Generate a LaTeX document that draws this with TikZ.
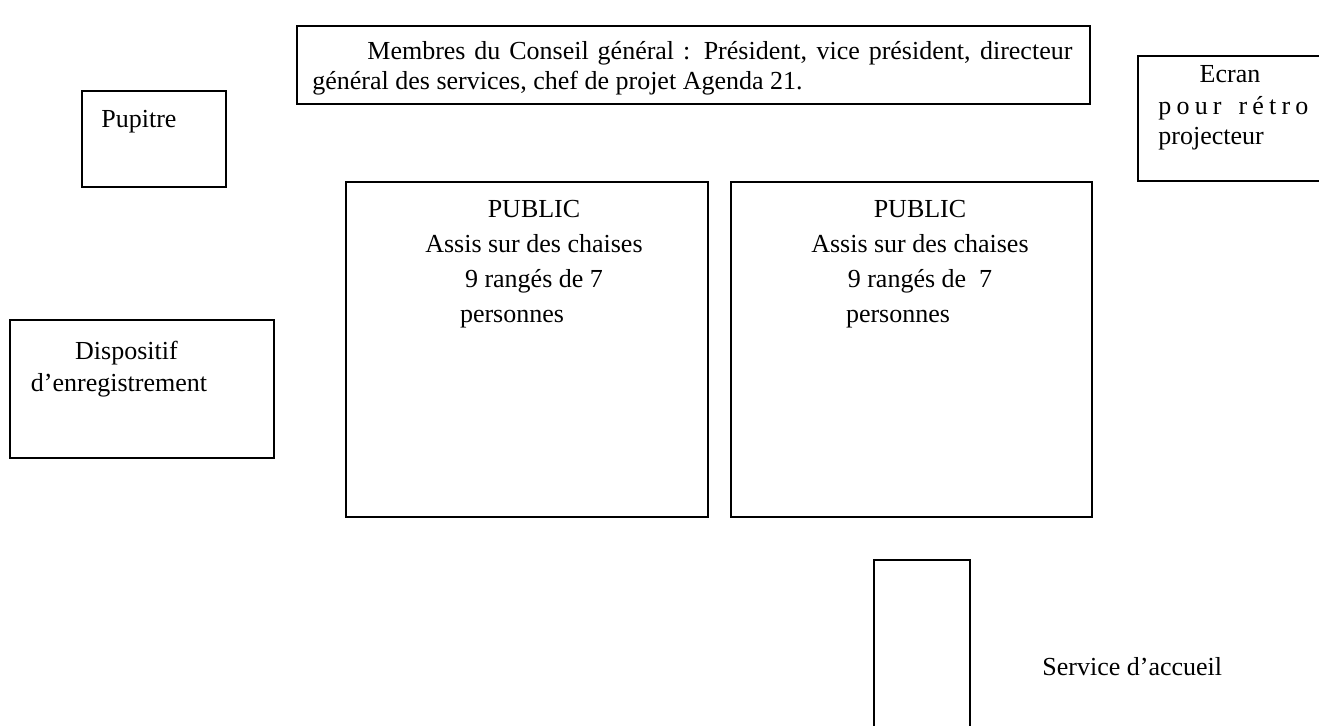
\documentclass[tikz,border=0pt]{standalone}
\usepackage{fontspec}
\setmainfont{Liberation Serif}
\usetikzlibrary{positioning, fit}

\begin{document}
\begin{tikzpicture}[
    x=0.5pt, y=-0.5pt,
    zone/.style={draw, line width=1pt, inner sep=0pt},
    legende/.style={font=\fontsize{13}{17.5}\selectfont, inner sep=0pt}
  ]
  \useasboundingbox (0,0) rectangle (1319,725);
  \clip (0,0) rectangle (1319,725);

  % cadres
  \node[zone, fit={(297,26) (1090,104)}] (conseil) {};
  \node[zone, fit={(82,91) (226,187)}] (pupitre) {};
  \node[zone, fit={(1138,56) (1340,181)}] (ecran) {};
  \node[zone, fit={(10,320) (274,458)}] (dispositif) {};
  \node[zone, fit={(346,182) (708,517)}] (public1) {};
  \node[zone, fit={(731,182) (1092,517)}] (public2) {};
  \node[zone, fit={(874,560) (970,740)}] (accueil) {};

  % textes
  \node[legende, font=\fontsize{13}{15}\selectfont, text width=380pt, align=justify, anchor=west] (conseiltxt) at (312,68)
    {\hspace*{27.5pt}Membres du Conseil général : Président, vice président, directeur\linebreak général des services, chef de projet Agenda 21.};
  \node[legende, anchor=west] (pupitretxt) at (101,122) {Pupitre};
  \node[legende] (ecrantitre) at (1230,74) {Ecran};
  \node[legende, font=\fontsize{13}{15}\selectfont, text width=75pt, align=justify, anchor=north west] (ecrantxt) at (1158,96)
    {{\addfontfeature{LetterSpace=20}pour rétro}\linebreak projecteur};
  \node[legende, align=center] (public1txt) at (534,264)
    {PUBLIC\\Assis sur des chaises\\9 rangés de 7\\personnes\hspace*{22pt}};
  \node[legende, align=center] (public2txt) at (920,264)
    {PUBLIC\\Assis sur des chaises\\9 rangés de\ \ 7\\personnes\hspace*{22pt}};
  \node[legende, font=\fontsize{13}{16}\selectfont, align=center] (dispositiftxt) at (119,369)
    {\hspace*{7.5pt}Dispositif\\d’enregistrement};
  \node[legende, anchor=west] (accueiltxt) at (1042,667) {Service d’accueil};
\end{tikzpicture}
\end{document}
